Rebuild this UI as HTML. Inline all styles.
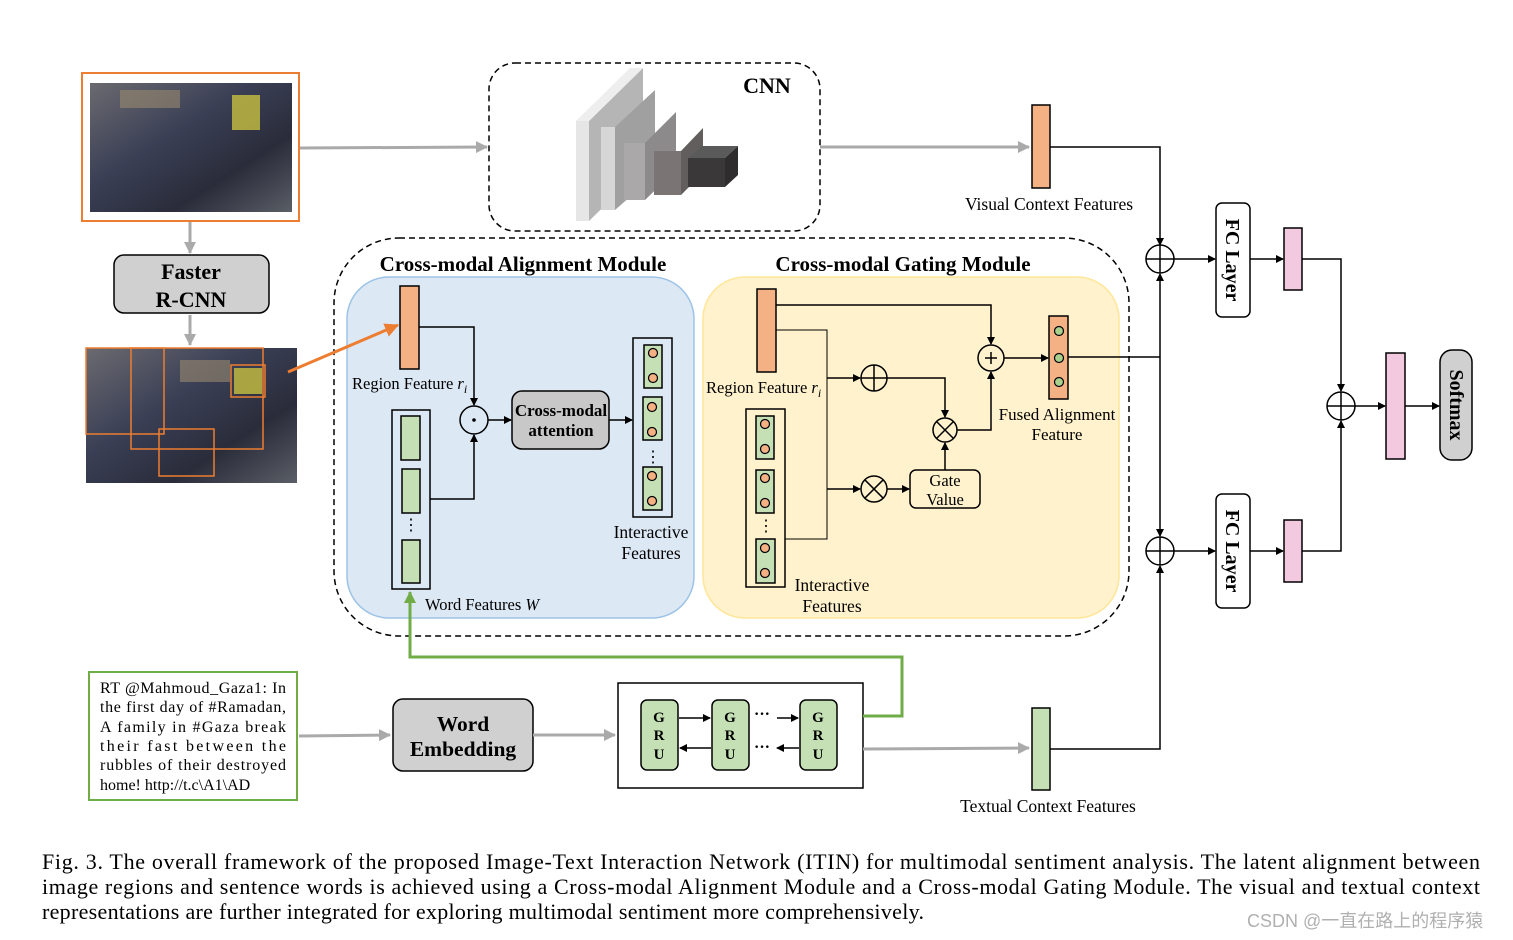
<!DOCTYPE html>
<html><head><meta charset="utf-8"><style>
html,body{margin:0;padding:0;background:#fff;}
svg{display:block;font-family:"Liberation Serif",serif;}
</style></head><body>
<svg width="1513" height="940" viewBox="0 0 1513 940" xmlns="http://www.w3.org/2000/svg">
<defs>
<marker id="ab" markerWidth="8" markerHeight="8" refX="7" refY="4" orient="auto" markerUnits="userSpaceOnUse"><path d="M0,0 L8,4 L0,8 z" fill="#000"/></marker>
<marker id="ag" markerWidth="12" markerHeight="12" refX="11" refY="6" orient="auto" markerUnits="userSpaceOnUse"><path d="M0,0 L12,6 L0,12 z" fill="#aaa"/></marker>
<marker id="agr" markerWidth="12" markerHeight="12" refX="11" refY="6" orient="auto" markerUnits="userSpaceOnUse"><path d="M0,0 L12,6 L0,12 z" fill="#70ad47"/></marker>
<marker id="ao" markerWidth="14" markerHeight="14" refX="13" refY="7" orient="auto" markerUnits="userSpaceOnUse"><path d="M0,0 L14,7 L0,14 z" fill="#ed7d31"/></marker>
<linearGradient id="ph" x1="0" y1="0" x2="1" y2="1"><stop offset="0" stop-color="#6b6a70"/><stop offset="0.4" stop-color="#3a3f55"/><stop offset="0.7" stop-color="#2a2c3a"/><stop offset="1" stop-color="#5a5e66"/></linearGradient>
</defs>

<!-- top photo -->
<rect x="82" y="73" width="217" height="148" fill="#fff" stroke="#ed7d31" stroke-width="2"/>
<rect x="90" y="83" width="202" height="129" fill="url(#ph)"/>
<rect x="232" y="95" width="28" height="35" fill="#c8c040" opacity="0.8"/>
<rect x="120" y="90" width="60" height="18" fill="#9a8a70" opacity="0.6"/>
<line x1="300" y1="148" x2="487" y2="147" stroke="#aaa" stroke-width="3" marker-end="url(#ag)"/>

<!-- CNN -->
<rect x="489" y="63" width="331" height="168" rx="26" fill="none" stroke="#000" stroke-width="1.5" stroke-dasharray="6,4"/>
<text x="767" y="93" font-size="22" font-weight="bold" text-anchor="middle">CNN</text>
<polygon points="589,121 643,68 643,168 589,221" fill="#b5b5b5"/>
<polygon points="576,121 630,68 643,68 589,121" fill="#eee"/>
<rect x="576" y="121" width="13" height="100" fill="#e6e6e6"/>
<polygon points="615,127 655,90 655,175 615,210" fill="#a0a0a0"/>
<rect x="601" y="127" width="14" height="83" fill="#d6d6d6"/>
<polygon points="645,143 676,112 676,170 645,200" fill="#8c8a8a"/>
<rect x="624" y="143" width="21" height="57" fill="#aaa8a8"/>
<polygon points="681,151 703,128 703,173 681,195" fill="#625e5e"/>
<rect x="654" y="151" width="27" height="44" fill="#7a7474"/>
<polygon points="688,158 702,146 738,146 725,158" fill="#5a5a5a"/>
<polygon points="725,158 738,146 738,175 725,187" fill="#2e2c2c"/>
<rect x="688" y="158" width="37" height="29" fill="#3a3838"/>
<line x1="820" y1="147" x2="1029" y2="147" stroke="#aaa" stroke-width="3" marker-end="url(#ag)"/>
<rect x="1032" y="105" width="18" height="83" fill="#f4b183" stroke="#000" stroke-width="1.5"/>
<text x="1049" y="210" font-size="17.5" text-anchor="middle">Visual Context Features</text>
<polyline points="1050,147 1160,147 1160,245" fill="none" stroke="#000" stroke-width="1.5" marker-end="url(#ab)"/>

<!-- Faster R-CNN -->
<line x1="190" y1="222" x2="190" y2="253" stroke="#aaa" stroke-width="3" marker-end="url(#ag)"/>
<rect x="114" y="255" width="155" height="58" rx="10" fill="#d0d0d0" stroke="#000" stroke-width="1.5"/>
<text x="191" y="279" font-size="22" font-weight="bold" text-anchor="middle">Faster</text>
<text x="191" y="307" font-size="22" font-weight="bold" text-anchor="middle">R-CNN</text>
<line x1="190" y1="315" x2="190" y2="345" stroke="#aaa" stroke-width="3" marker-end="url(#ag)"/>
<rect x="86" y="348" width="211" height="135" fill="url(#ph)"/>
<rect x="180" y="360" width="50" height="22" fill="#9a8a70" opacity="0.6"/>
<rect x="234" y="368" width="28" height="26" fill="#c8c040" opacity="0.8"/>
<g fill="none" stroke="#ed7d31" stroke-width="1.5">
<rect x="86" y="348" width="78" height="86"/><rect x="131" y="348" width="132" height="101"/>
<rect x="159" y="429" width="55" height="47"/><rect x="231" y="365" width="34" height="32"/>
</g>

<!-- outer dashed -->
<rect x="334" y="238" width="795" height="398" rx="65" fill="none" stroke="#000" stroke-width="1.5" stroke-dasharray="6,4"/>
<rect x="347" y="277" width="347" height="341" rx="42" fill="#dde8f5" stroke="#9dc3e6" stroke-width="1.5"/>
<rect x="703" y="277" width="416" height="341" rx="42" fill="#fff2cc" stroke="#ffe699" stroke-width="1.5"/>
<text x="523" y="271" font-size="21" font-weight="bold" text-anchor="middle">Cross-modal Alignment Module</text>
<text x="903" y="271" font-size="21" font-weight="bold" text-anchor="middle">Cross-modal Gating Module</text>
<line x1="288" y1="372" x2="398" y2="325" stroke="#ed7d31" stroke-width="3" marker-end="url(#ao)"/>

<!-- alignment -->
<g stroke="#000" stroke-width="1.5">
<rect x="400" y="286" width="19" height="83" fill="#f4b183"/>
<rect x="392" y="410" width="38" height="179" fill="none"/>
<rect x="401" y="416" width="19" height="44" fill="#c5e0b4"/>
<rect x="402" y="469" width="18" height="44" fill="#c5e0b4"/>
<rect x="402" y="540" width="18" height="43" fill="#c5e0b4"/>
<circle cx="474" cy="420" r="14" fill="none"/>
<rect x="512" y="391" width="97" height="58" rx="10" fill="#c8c8c8"/>
<rect x="633" y="338" width="39" height="179" fill="none"/>
<rect x="644" y="345" width="18" height="43" fill="#c5e0b4"/>
<rect x="643" y="397" width="19" height="43" fill="#c5e0b4"/>
<rect x="643" y="467" width="19" height="43" fill="#c5e0b4"/>
</g>
<g fill="#f4b183" stroke="#000" stroke-width="1.2">
<circle cx="653" cy="353" r="4.5"/><circle cx="653" cy="378" r="4.5"/>
<circle cx="652" cy="407" r="4.5"/><circle cx="652" cy="432" r="4.5"/>
<circle cx="652" cy="476" r="4.5"/><circle cx="652" cy="501" r="4.5"/>
</g>
<circle cx="474" cy="420" r="1.8" fill="#000"/>
<text x="411" y="530" font-size="16" text-anchor="middle">⋮</text>
<text x="653" y="462" font-size="16" text-anchor="middle">⋮</text>
<g fill="none" stroke="#000" stroke-width="1.5">
<polyline points="419,327 474,327 474,405" marker-end="url(#ab)"/>
<polyline points="430,499 474,499 474,435" marker-end="url(#ab)"/>
<line x1="488" y1="420" x2="511" y2="420" marker-end="url(#ab)"/>
<line x1="609" y1="420" x2="632" y2="420" marker-end="url(#ab)"/>
</g>
<text x="561" y="416" font-size="17" font-weight="bold" text-anchor="middle">Cross-modal</text>
<text x="561" y="436" font-size="17" font-weight="bold" text-anchor="middle">attention</text>
<text x="352" y="389" font-size="16.5">Region Feature <tspan font-style="italic">r</tspan><tspan font-style="italic" font-size="12" dy="4">i</tspan></text>
<text x="651" y="538" font-size="17.5" text-anchor="middle">Interactive</text>
<text x="651" y="559" font-size="17.5" text-anchor="middle">Features</text>
<text x="425" y="610" font-size="16.5">Word Features <tspan font-style="italic">W</tspan></text>

<!-- gating -->
<g stroke="#000" stroke-width="1.5">
<rect x="757" y="289" width="19" height="83" fill="#f4b183"/>
<rect x="746" y="409" width="39" height="178" fill="none"/>
<rect x="756" y="416" width="18" height="43" fill="#c5e0b4"/>
<rect x="756" y="470" width="18" height="43" fill="#c5e0b4"/>
<rect x="756" y="539" width="19" height="44" fill="#c5e0b4"/>
<rect x="1049" y="316" width="19" height="83" fill="#f4b183"/>
<rect x="910" y="470" width="70" height="38" rx="6" fill="none"/>
<circle cx="991" cy="358" r="13" fill="none"/>
<circle cx="874" cy="378" r="13" fill="none"/>
<circle cx="945" cy="430" r="12" fill="none"/>
<circle cx="874" cy="489" r="13" fill="none"/>
</g>
<g stroke="#000" stroke-width="1.5">
<line x1="985" y1="358" x2="997" y2="358"/><line x1="991" y1="352" x2="991" y2="364"/>
<line x1="861" y1="378" x2="887" y2="378"/><line x1="874" y1="365" x2="874" y2="391"/>
<line x1="936.5" y1="421.5" x2="953.5" y2="438.5"/><line x1="953.5" y1="421.5" x2="936.5" y2="438.5"/>
<line x1="864.8" y1="479.8" x2="883.2" y2="498.2"/><line x1="883.2" y1="479.8" x2="864.8" y2="498.2"/>
</g>
<g fill="#f4b183" stroke="#000" stroke-width="1.2">
<circle cx="765" cy="424" r="4.5"/><circle cx="765" cy="449" r="4.5"/>
<circle cx="765" cy="478" r="4.5"/><circle cx="765" cy="503" r="4.5"/>
<circle cx="765" cy="548" r="4.5"/><circle cx="765" cy="573" r="4.5"/>
</g>
<g fill="#a9d18e" stroke="#000" stroke-width="1.2">
<circle cx="1059" cy="331" r="4.5"/><circle cx="1059" cy="358" r="4.5"/><circle cx="1059" cy="382" r="4.5"/>
</g>
<text x="766" y="531" font-size="16" text-anchor="middle">⋮</text>
<g fill="none" stroke="#000" stroke-width="1.5">
<polyline points="776,305 991,305 991,344" marker-end="url(#ab)"/>
<polyline points="776,330 827,330 827,539 785,539" stroke-width="1"/>
<line x1="827" y1="378" x2="860" y2="378" marker-end="url(#ab)"/>
<polyline points="887,378 945,378 945,417" marker-end="url(#ab)"/>
<line x1="827" y1="489" x2="860" y2="489" marker-end="url(#ab)"/>
<line x1="887" y1="489" x2="909" y2="489" marker-end="url(#ab)"/>
<line x1="945" y1="470" x2="945" y2="443" marker-end="url(#ab)"/>
<polyline points="957,430 991,430 991,372" marker-end="url(#ab)"/>
<line x1="1004" y1="358" x2="1048" y2="358" marker-end="url(#ab)"/>
<line x1="1068" y1="357" x2="1160" y2="357"/>
</g>
<text x="945" y="486" font-size="16.5" text-anchor="middle">Gate</text>
<text x="945" y="505" font-size="16.5" text-anchor="middle">Value</text>
<text x="706" y="393" font-size="16.5">Region Feature <tspan font-style="italic">r</tspan><tspan font-style="italic" font-size="12" dy="4">i</tspan></text>
<text x="1057" y="420" font-size="17" text-anchor="middle">Fused Alignment</text>
<text x="1057" y="440" font-size="17" text-anchor="middle">Feature</text>
<text x="832" y="591" font-size="17.5" text-anchor="middle">Interactive</text>
<text x="832" y="612" font-size="17.5" text-anchor="middle">Features</text>

<!-- right side -->
<g stroke="#000" stroke-width="1.5" fill="none">
<circle cx="1160" cy="259" r="14"/><line x1="1146" y1="259" x2="1174" y2="259"/><line x1="1160" y1="245" x2="1160" y2="273"/>
<circle cx="1160" cy="551" r="14"/><line x1="1146" y1="551" x2="1174" y2="551"/><line x1="1160" y1="537" x2="1160" y2="565"/>
<circle cx="1341" cy="406" r="14"/><line x1="1327" y1="406" x2="1355" y2="406"/><line x1="1341" y1="392" x2="1341" y2="420"/>
<line x1="1160" y1="357" x2="1160" y2="274" marker-end="url(#ab)"/>
<line x1="1160" y1="357" x2="1160" y2="536" marker-end="url(#ab)"/>
<polyline points="1050,749 1160,749 1160,566" marker-end="url(#ab)"/>
<line x1="1174" y1="259" x2="1215" y2="259" marker-end="url(#ab)"/>
<line x1="1174" y1="551" x2="1215" y2="551" marker-end="url(#ab)"/>
<line x1="1250" y1="259" x2="1283" y2="259" marker-end="url(#ab)"/>
<line x1="1250" y1="551" x2="1283" y2="551" marker-end="url(#ab)"/>
<polyline points="1302,259 1341,259 1341,391" marker-end="url(#ab)"/>
<polyline points="1302,551 1341,551 1341,421" marker-end="url(#ab)"/>
<line x1="1355" y1="406" x2="1385" y2="406" marker-end="url(#ab)"/>
<line x1="1405" y1="406" x2="1439" y2="406" marker-end="url(#ab)"/>
<rect x="1216" y="203" width="34" height="114" rx="6" fill="#fff"/>
<rect x="1216" y="494" width="34" height="114" rx="6" fill="#fff"/>
<rect x="1284" y="228" width="18" height="62" fill="#f2c9de"/>
<rect x="1284" y="520" width="18" height="62" fill="#f2c9de"/>
<rect x="1386" y="353" width="19" height="106" fill="#f2c9de"/>
<rect x="1440" y="350" width="32" height="110" rx="12" fill="#d0d0d0"/>
</g>
<text transform="translate(1226,260) rotate(90)" font-size="20" font-weight="bold" text-anchor="middle">FC Layer</text>
<text transform="translate(1226,551) rotate(90)" font-size="20" font-weight="bold" text-anchor="middle">FC Layer</text>
<text transform="translate(1450,405) rotate(90)" font-size="20" font-weight="bold" text-anchor="middle">Softmax</text>

<!-- text branch -->
<rect x="89" y="672" width="208" height="128" fill="#fff" stroke="#70ad47" stroke-width="2"/>
<g font-size="16">
<text x="100" y="693" textLength="186" lengthAdjust="spacing">RT @Mahmoud_Gaza1: In</text>
<text x="100" y="712" textLength="186" lengthAdjust="spacing">the first day of #Ramadan,</text>
<text x="100" y="732" textLength="186" lengthAdjust="spacing">A family in #Gaza break</text>
<text x="100" y="751" textLength="186" lengthAdjust="spacing">their fast between the</text>
<text x="100" y="770" textLength="186" lengthAdjust="spacing">rubbles of their destroyed</text>
<text x="100" y="790">home! http://t.c\A1\AD</text>
</g>
<line x1="299" y1="736" x2="390" y2="735" stroke="#aaa" stroke-width="3" marker-end="url(#ag)"/>
<rect x="393" y="699" width="140" height="72" rx="10" fill="#d0d0d0" stroke="#000" stroke-width="1.5"/>
<text x="463" y="731" font-size="21.5" font-weight="bold" text-anchor="middle">Word</text>
<text x="463" y="756" font-size="21.5" font-weight="bold" text-anchor="middle">Embedding</text>
<line x1="533" y1="735" x2="615" y2="735" stroke="#aaa" stroke-width="3" marker-end="url(#ag)"/>
<rect x="618" y="683" width="245" height="105" fill="#fff" stroke="#000" stroke-width="1.5"/>
<g stroke="#000" stroke-width="1.5" fill="#c5e0b4">
<rect x="641" y="700" width="37" height="70" rx="6"/><rect x="712" y="700" width="37" height="70" rx="6"/><rect x="800" y="700" width="37" height="70" rx="6"/>
</g>
<g font-size="15" font-weight="bold" text-anchor="middle">
<text x="659" y="722">G</text><text x="659" y="740">R</text><text x="659" y="759">U</text>
<text x="730" y="722">G</text><text x="730" y="740">R</text><text x="730" y="759">U</text>
<text x="818" y="722">G</text><text x="818" y="740">R</text><text x="818" y="759">U</text>
</g>
<g stroke="#000" stroke-width="1.5">
<line x1="679" y1="718" x2="710" y2="718" marker-end="url(#ab)"/>
<line x1="777" y1="718" x2="798" y2="718" marker-end="url(#ab)"/>
<line x1="711" y1="748" x2="680" y2="748" marker-end="url(#ab)"/>
<line x1="799" y1="748" x2="777" y2="748" marker-end="url(#ab)"/>
</g>
<text x="762" y="719" font-size="16" font-weight="bold" text-anchor="middle">···</text>
<text x="762" y="752" font-size="16" font-weight="bold" text-anchor="middle">···</text>
<polyline points="863,716 902,716 902,657 410,657 410,592" fill="none" stroke="#70ad47" stroke-width="3" marker-end="url(#agr)"/>
<line x1="863" y1="749" x2="1029" y2="748" stroke="#aaa" stroke-width="3" marker-end="url(#ag)"/>
<rect x="1032" y="708" width="18" height="82" fill="#c5e0b4" stroke="#000" stroke-width="1.5"/>
<text x="1048" y="812" font-size="17.5" text-anchor="middle">Textual Context Features</text>

<!-- caption -->
<g font-size="22">
<text x="42" y="869" textLength="1438" lengthAdjust="spacing">Fig. 3.  The overall framework of the proposed Image-Text Interaction Network (ITIN) for multimodal sentiment analysis. The latent alignment between</text>
<text x="42" y="894" textLength="1438" lengthAdjust="spacing">image regions and sentence words is achieved using a Cross-modal Alignment Module and a Cross-modal Gating Module. The visual and textual context</text>
<text x="42" y="919" textLength="882" lengthAdjust="spacing">representations are further integrated for exploring multimodal sentiment more comprehensively.</text>
</g>
<text x="1247" y="927" font-size="18" fill="#b0b0b0" font-family="Liberation Sans, Noto Sans CJK SC, sans-serif">CSDN @一直在路上的程序猿</text>
</svg>
</body></html>
